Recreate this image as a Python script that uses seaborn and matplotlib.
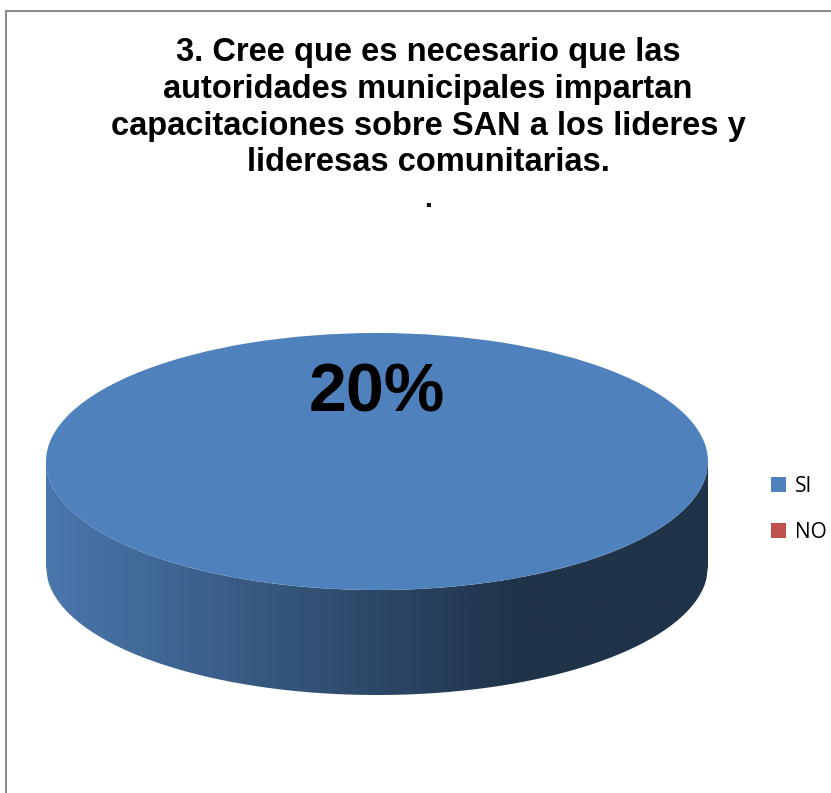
import numpy as np
import matplotlib
matplotlib.use("Agg")
import matplotlib.pyplot as plt
from matplotlib.colors import LinearSegmentedColormap
from matplotlib.patches import Polygon, Rectangle
import seaborn as sns

# Data
categories = ["SI", "NO"]
values = [20, 0]
colors = ["#4f81bd", "#c0504d"]
title = ("3. Cree que es necesario que las\nautoridades municipales impartan\n"
         "capacitaciones sobre SAN a los lideres y\nlideresas comunitarias.")

sns.set_theme(style="white")
plt.rcParams["font.family"] = ["Liberation Sans", "DejaVu Sans"]
plt.rcParams["text.color"] = "black"

W, H = 831, 793
fig = plt.figure(figsize=(W / 100, H / 100), dpi=100)

# chart frame (cropped at right and bottom)
fig.patches.append(Rectangle((6 / W, -0.1), 1.2, (H - 11) / H + 0.1,
                             transform=fig.transFigure, fill=False,
                             edgecolor="#8c8c8c", linewidth=1.5))

# pie axes: top face ellipse spans x 46..708, y 333..590; side down to 695
depth = 105 / 128.5
ax = fig.add_axes([46 / W, (H - 695) / H, 662 / W, (695 - 333) / H])

total = sum(values)
wedges, texts, autotexts = ax.pie(
    values, colors=colors, startangle=-90, radius=1,
    autopct=lambda p: f"{p * total / 100:.0f}%" if p > 0 else "",
    pctdistance=0.53, wedgeprops=dict(linewidth=0),
    textprops=dict(fontsize=49, fontweight="bold", color="black"))
for w in wedges:
    w.set_zorder(3)
for t in autotexts:
    t.set_zorder(4)

# side of the 3D disk with gradient
xs = np.linspace(-1, 1, 400)
upper = -np.sqrt(1 - xs ** 2)
lower = upper - depth
poly = np.vstack([[[-1, 0]],
                  np.column_stack([xs, upper]),
                  [[1, 0]],
                  np.column_stack([xs[::-1], lower[::-1]])])
side = Polygon(poly, closed=True, facecolor="none", edgecolor="none")
ax.add_patch(side)
cmap = LinearSegmentedColormap.from_list(
    "side", [(0, "#4a77ad"), (0.72, "#1f3349"), (1, "#1f3349")])
grad = np.linspace(0, 1, 512).reshape(1, -1)
im = ax.imshow(grad, cmap=cmap, extent=(-1, 1, -1 - depth, 0),
               aspect="auto", zorder=1)
im.set_clip_path(side)

ax.set_aspect("auto")
ax.set_xlim(-1, 1)
ax.set_ylim(-1 - depth, 1)
ax.axis("off")

fig.text(428 / W, 1 - 37 / H, title, ha="center", va="top", fontsize=23.5,
         fontweight="bold", linespacing=1.24, color="black")
fig.text(428 / W, 1 - 200 / H, ".", ha="center", va="center", fontsize=20,
         fontweight="bold", color="black")

leg = fig.legend(wedges, categories, loc="center left",
                 bbox_to_anchor=(752 / W, 1 - 509 / H), frameon=False,
                 handlelength=0.75, handleheight=0.75,
                 handletextpad=0.4, labelspacing=1.2,
                 prop={"family": "Open Sans", "size": 15})
for t in leg.get_texts():
    t.set_color("black")

fig.savefig("out.png", dpi=100, facecolor="white")
